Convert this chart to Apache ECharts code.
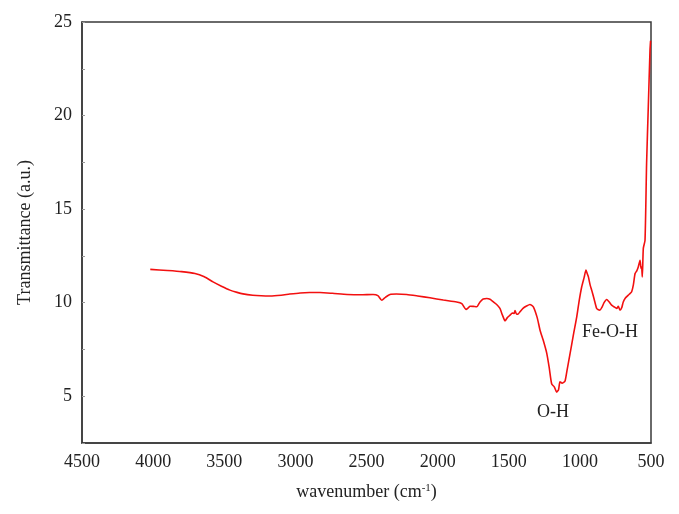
<!DOCTYPE html>
<html>
<head>
<meta charset="utf-8">
<script src="https://cdn.jsdelivr.net/npm/echarts@6/dist/echarts.min.js"></script>
<style>html,body{margin:0;padding:0;background:#fff}#c{width:679px;height:514px}</style>
</head>
<body>
<div id="c"></div>
<script>
var wavenumbers = [4020, 3900, 3800, 3706, 3640, 3579, 3520, 3460, 3410, 3368, 3300, 3240, 3178, 3100, 3040, 2967, 2900, 2827, 2740, 2637, 2540, 2454, 2420, 2393, 2365, 2335, 2290, 2217, 2140, 2054, 1960, 1866, 1830, 1800, 1785, 1772, 1750, 1725, 1702, 1680, 1655, 1632, 1608, 1585, 1562, 1545, 1526, 1510, 1491, 1475, 1462, 1456, 1445, 1433, 1421, 1400, 1375, 1351, 1327, 1300, 1280, 1258, 1233, 1215, 1198, 1180, 1163, 1150, 1140, 1125, 1105, 1090, 1069, 1045, 1022, 1005, 987, 970, 957, 948, 940, 928, 917, 900, 882, 870, 859, 845, 830, 812, 795, 777, 760, 741, 730, 718, 705, 695, 680, 660, 648, 636, 624, 612, 600, 589, 577, 570, 566, 561, 554, 542, 531, 519, 507, 503];
var transmittance = [11.78, 11.72, 11.66, 11.56, 11.38, 11.11, 10.88, 10.67, 10.55, 10.47, 10.40, 10.37, 10.36, 10.40, 10.46, 10.52, 10.54, 10.54, 10.50, 10.44, 10.42, 10.44, 10.38, 10.13, 10.30, 10.44, 10.46, 10.44, 10.36, 10.26, 10.14, 10.04, 9.95, 9.64, 9.72, 9.81, 9.80, 9.78, 10.04, 10.20, 10.22, 10.18, 10.04, 9.90, 9.69, 9.35, 9.03, 9.20, 9.33, 9.45, 9.42, 9.58, 9.38, 9.40, 9.51, 9.70, 9.82, 9.90, 9.78, 9.20, 8.53, 8.00, 7.30, 6.50, 5.65, 5.50, 5.22, 5.35, 5.77, 5.70, 5.80, 6.40, 7.28, 8.30, 9.24, 10.10, 10.85, 11.35, 11.74, 11.55, 11.38, 10.95, 10.67, 10.20, 9.69, 9.62, 9.60, 9.75, 10.00, 10.17, 10.05, 9.87, 9.78, 9.69, 9.80, 9.60, 9.75, 10.04, 10.25, 10.40, 10.48, 10.58, 10.95, 11.56, 11.70, 11.92, 12.27, 11.83, 11.90, 11.38, 12.90, 13.34, 17.44, 20.47, 23.50, 24.00];
var xTicks = [500, 4500, 500];
var yTicks = [2.5, 25, 2.5];
var annotations = [
  {text: 'O-H', wn: 1189, t: 4.14},
  {text: 'Fe-O-H', wn: 788, t: 8.42}
];

var data = wavenumbers.map(function (w, i) { return [w, transmittance[i]]; });
var serif = '"Liberation Serif", "DejaVu Serif", serif';
var chart = echarts.init(document.getElementById('c'), null, {renderer: 'canvas'});
chart.setOption({
  animation: false,
  backgroundColor: '#fff',
  grid: {left: 82, right: 28, top: 22, bottom: 71, containLabel: false, outerBoundsMode: 'none',
    show: true, borderColor: '#3a3a3a', borderWidth: 1.5, backgroundColor: 'transparent'},
  xAxis: {
    type: 'value', inverse: true, min: xTicks[0], max: xTicks[1], interval: xTicks[2],
    name: 'wavenumber (cm{sup|-1})', nameLocation: 'middle', nameGap: 40,
    nameTextStyle: {fontFamily: serif, fontSize: 18, color: '#222', rich: {sup: {fontFamily: serif, fontSize: 11, verticalAlign: 'top', padding: [0, 0, 8, 0], color: '#222'}}},
    axisLine: {show: true, lineStyle: {color: '#3a3a3a', width: 1.5}},
    axisTick: {show: false},
    splitLine: {show: false},
    axisLabel: {fontFamily: serif, fontSize: 18, color: '#222', margin: 10,
      formatter: function (v) { return String(v); }}
  },
  yAxis: {
    type: 'value', min: yTicks[0], max: yTicks[1], interval: yTicks[2],
    name: 'Transmittance (a.u.)', nameLocation: 'middle', nameGap: 48, nameRotate: 90,
    nameTextStyle: {fontFamily: serif, fontSize: 18, color: '#222'},
    axisLine: {show: true, lineStyle: {color: '#3a3a3a', width: 1.5}},
    axisTick: {show: true, inside: true, length: 3, lineStyle: {color: '#999', width: 1}},
    splitLine: {show: false},
    axisLabel: {fontFamily: serif, fontSize: 18, color: '#222', margin: 10,
      formatter: function (v) { return (Math.abs(v % 5) < 1e-6) ? String(v) : ''; }}
  },
  series: [{
    type: 'line', data: data, showSymbol: false, symbol: 'none', smooth: 0.2,
    lineStyle: {color: '#f21010', width: 1.6},
    markPoint: {
      symbol: 'circle', symbolSize: 0,
      label: {show: true, position: 'inside', fontFamily: serif, fontSize: 18, color: '#222', formatter: '{b}'},
      data: annotations.map(function (a) { return {name: a.text, coord: [a.wn, a.t], value: a.text}; })
    }
  }]
});
</script>
</body>
</html>
